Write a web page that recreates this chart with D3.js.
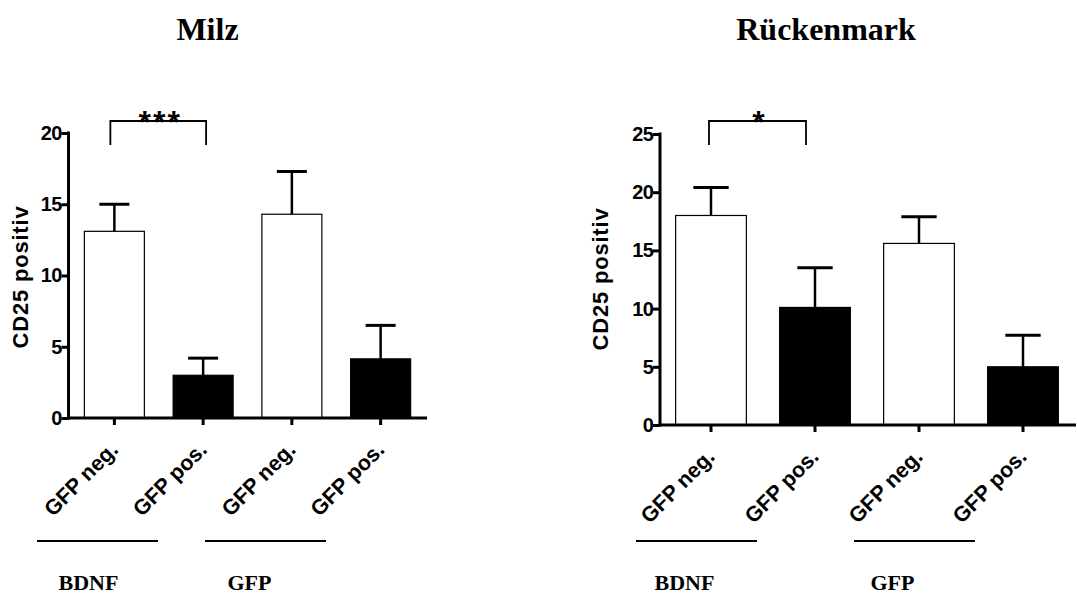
<!DOCTYPE html>
<html>
<head>
<meta charset="utf-8">
<script src="https://cdn.jsdelivr.net/npm/d3@7"></script>
<style>
  html, body { margin: 0; padding: 0; background: #fff; }
  svg { display: block; }
</style>
</head>
<body>
<svg id="chart" width="1077" height="595"></svg>
<script>
// ---------------- DATA ----------------
const categories = ["GFP neg.", "GFP pos.", "GFP neg.", "GFP pos."];
const groups = ["BDNF", "GFP"];
const yLabel = "CD25 positiv";

const milzTitle = "Milz";
const milzMeans = [13.1, 3.0, 14.3, 4.15];
const milzErrors = [1.9, 1.2, 3.0, 2.35];
const milzTicks = [0, 5, 10, 15, 20];
const milzSignif = "***";

const rmTitle = "Rückenmark";
const rmMeans = [18.0, 10.1, 15.6, 5.0];
const rmErrors = [2.4, 3.4, 2.3, 2.7];
const rmTicks = [0, 5, 10, 15, 20, 25];
const rmSignif = "*";

// ---------------- DRAW ----------------
const svg = d3.select("#chart");
const fillScale = d3.scaleOrdinal().domain(["GFP neg.", "GFP pos."]).range(["#ffffff", "#000000"]);
const SANS = "'Liberation Sans', Arial, sans-serif";
const SERIF = "'Liberation Serif', 'Times New Roman', serif";

function panel(cfg) {
  const g = svg.append("g");
  const idx = d3.range(cfg.means.length);
  const x = d3.scaleBand().domain(idx).range(cfg.xRange).paddingInner(cfg.pi).paddingOuter(cfg.pi / 2);
  const y = d3.scaleLinear().domain([0, d3.max(cfg.ticks)]).range(cfg.yRange);
  const bw = x.bandwidth();
  const cx = i => x(i) + bw / 2;
  const axisX = cfg.axisLeft;
  const y0 = y(0);

  // title
  g.append("text")
    .attr("x", cfg.titleX).attr("y", 40)
    .attr("text-anchor", "middle")
    .attr("font-family", SERIF)
    .attr("font-weight", "bold").attr("font-size", 32)
    .text(cfg.title);

  // bars
  g.selectAll("rect.bar").data(idx).enter().append("rect")
    .attr("x", i => x(i)).attr("width", bw)
    .attr("y", i => y(cfg.means[i])).attr("height", i => y0 - y(cfg.means[i]))
    .attr("fill", i => fillScale(categories[i]))
    .attr("stroke", "#000").attr("stroke-width", 1.2);

  // error bars
  const capW = bw * 0.5;
  g.selectAll("line.stem").data(idx).enter().append("line")
    .attr("x1", cx).attr("x2", cx)
    .attr("y1", i => y(cfg.means[i])).attr("y2", i => y(cfg.means[i] + cfg.errors[i]))
    .attr("stroke", "#000").attr("stroke-width", 2.5);
  g.selectAll("line.cap").data(idx).enter().append("line")
    .attr("x1", i => cx(i) - capW / 2).attr("x2", i => cx(i) + capW / 2)
    .attr("y1", i => y(cfg.means[i] + cfg.errors[i])).attr("y2", i => y(cfg.means[i] + cfg.errors[i]))
    .attr("stroke", "#000").attr("stroke-width", 3);

  // y axis
  const yAxis = d3.axisLeft(y).tickValues(cfg.ticks).tickSize(7).tickPadding(0).tickFormat(d3.format("d"));
  const ya = g.append("g").attr("transform", `translate(${axisX},0)`).call(yAxis);
  ya.select(".domain").remove();
  ya.append("line").attr("x1", 0).attr("x2", 0).attr("y1", y(d3.max(cfg.ticks)) - 1.5).attr("y2", y0 + 1.5)
    .attr("stroke", "#000").attr("stroke-width", 3);
  ya.selectAll(".tick line").attr("stroke", "#000").attr("stroke-width", 3);
  ya.selectAll(".tick text")
    .attr("font-family", SANS)
    .attr("font-weight", "bold").attr("font-size", 20).attr("letter-spacing", -0.8)
    .attr("fill", "#000");

  // x axis
  const xAxis = d3.axisBottom(x).tickSize(7).tickFormat(() => "");
  const xa = g.append("g").attr("transform", `translate(0,${y0})`).call(xAxis);
  xa.select(".domain").remove();
  xa.append("line").attr("x1", axisX - 1.5).attr("x2", cfg.axisRight).attr("y1", 0).attr("y2", 0)
    .attr("stroke", "#000").attr("stroke-width", 3);
  xa.selectAll(".tick line").attr("stroke", "#000").attr("stroke-width", 3);

  // x labels rotated
  g.selectAll("text.xl").data(idx).enter().append("text")
    .attr("transform", i => `translate(${cx(i) + 5},${y0 + 33}) rotate(-45)`)
    .attr("text-anchor", "end")
    .attr("font-family", SANS)
    .attr("font-weight", "bold").attr("font-size", 21.5)
    .text(i => categories[i]);

  // y title
  g.append("text")
    .attr("transform", `translate(${cfg.yTitleX},${cfg.yTitleY}) rotate(-90)`)
    .attr("text-anchor", "middle")
    .attr("font-family", SANS)
    .attr("font-weight", "bold").attr("font-size", 22).attr("letter-spacing", 0.8)
    .text(yLabel);

  // significance bracket
  const bx1 = cx(0) + cfg.brOff[0], bx2 = cx(1) + cfg.brOff[1];
  const byTop = 121, byBot = 145;
  g.append("path")
    .attr("d", `M${bx1},${byBot} V${byTop} H${bx2} V${byBot}`)
    .attr("fill", "none").attr("stroke", "#000").attr("stroke-width", 1.8);
  g.append("text")
    .attr("x", (bx1 + bx2) / 2 + 2).attr("y", 133)
    .attr("text-anchor", "middle")
    .attr("font-family", SANS).attr("font-weight", "bold")
    .attr("font-size", 32).attr("letter-spacing", 2)
    .text(cfg.signif);

  // group lines + labels
  groups.forEach((gname, k) => {
    const c = cfg.groupCenters[k];
    g.append("line").attr("x1", c - 60.5).attr("x2", c + 60.5).attr("y1", 541).attr("y2", 541)
      .attr("stroke", "#000").attr("stroke-width", 2);
    g.append("text")
      .attr("x", c + cfg.labelOff[k]).attr("y", 590)
      .attr("text-anchor", "middle")
      .attr("font-family", SERIF)
      .attr("font-weight", "bold").attr("font-size", 22)
      .text(gname);
  });
}

panel({
  title: milzTitle, titleX: 207.5,
  means: milzMeans, errors: milzErrors, ticks: milzTicks, signif: milzSignif,
  xRange: [70, 425], pi: 0.324, yRange: [418, 133],
  axisLeft: 68.5, axisRight: 427,
  yTitleX: 28, yTitleY: 277,
  brOff: [-4, 3],
  groupCenters: [97.5, 265.5],
  labelOff: [-9, -16]
});

panel({
  title: rmTitle, titleX: 826,
  means: rmMeans, errors: rmErrors, ticks: rmTicks, signif: rmSignif,
  xRange: [659, 1075], pi: 0.32, yRange: [425, 134],
  axisLeft: 660, axisRight: 1076,
  yTitleX: 608, yTitleY: 279,
  brOff: [-2, -9],
  groupCenters: [696.5, 914.5],
  labelOff: [-12, -22]
});
</script>
</body>
</html>
